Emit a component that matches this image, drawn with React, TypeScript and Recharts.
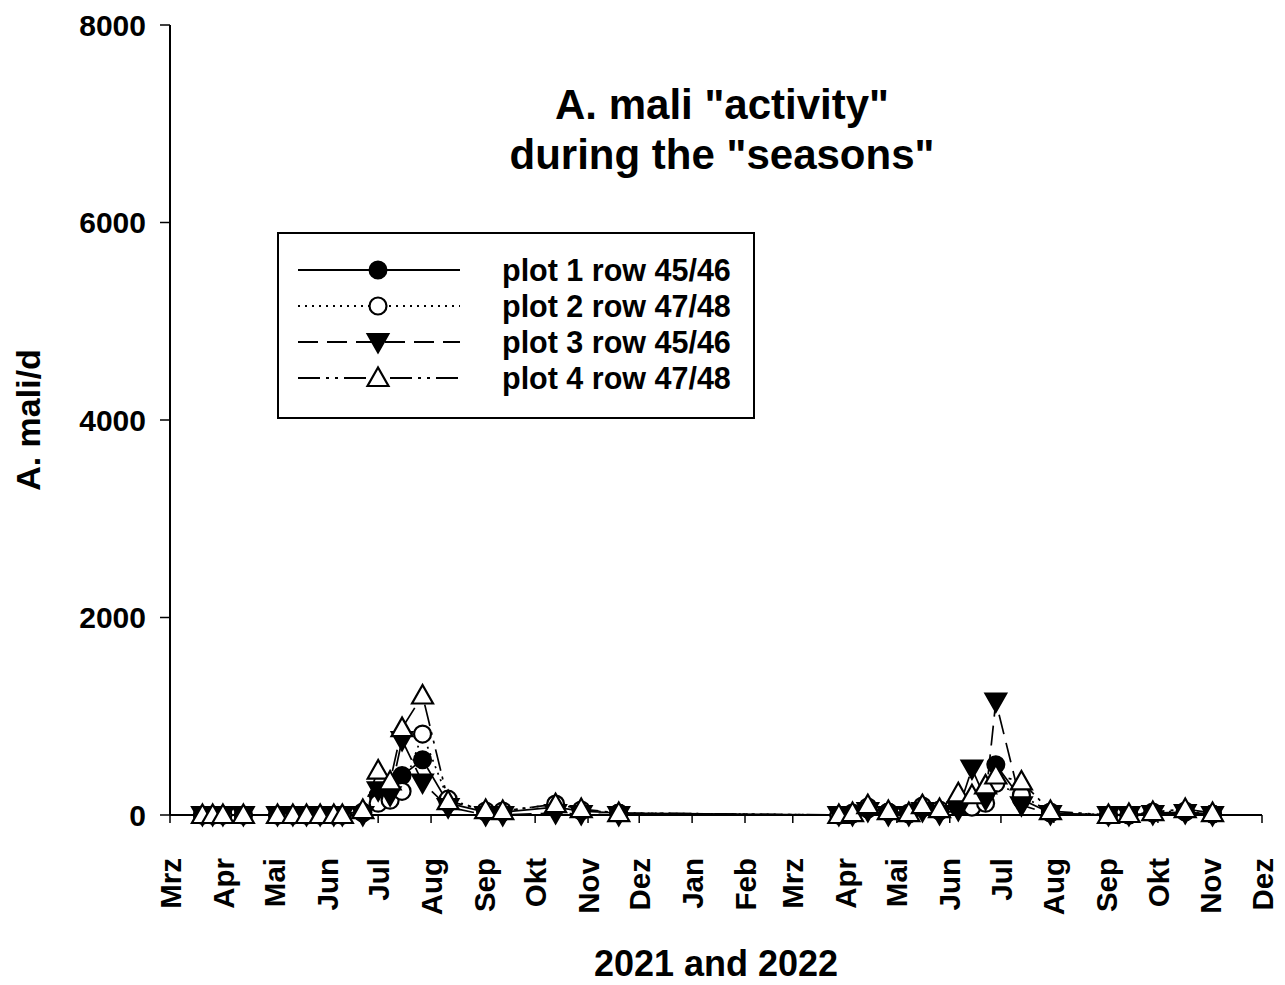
import React from 'react';
import { LineChart, Line, XAxis, YAxis, Legend } from 'recharts';

// Sampling dates (2021 and 2022 seasons)
const sampleDates = [
  '2021-03-20', '2021-03-26', '2021-04-01', '2021-04-13', '2021-05-03', '2021-05-12',
  '2021-05-20', '2021-05-28', '2021-06-05', '2021-06-10', '2021-06-22', '2021-07-01',
  '2021-07-08', '2021-07-15', '2021-07-27', '2021-08-11', '2021-09-02', '2021-09-12',
  '2021-10-13', '2021-10-28', '2021-11-19',
  '2022-03-28', '2022-04-05', '2022-04-14', '2022-04-26', '2022-05-08', '2022-05-16',
  '2022-05-26', '2022-06-06', '2022-06-14', '2022-06-22', '2022-06-28', '2022-07-13',
  '2022-07-30', '2022-09-02', '2022-09-14', '2022-09-28', '2022-10-17', '2022-11-02',
];

const plot1 = [
  0, 0, 0, 0, 0, 0, 0, 0, 0, 0, 20, 200, 250, 400, 560, 120, 30, 30, 80, 40, 20,
  0, 10, 60, 30, 10, 70, 40, 80, 90, 220, 510, 160, 20, 0, 0, 20, 30, 10,
];
const plot2 = [
  0, 0, 0, 0, 0, 0, 0, 0, 0, 0, 30, 120, 150, 240, 820, 160, 40, 40, 110, 50, 20,
  0, 20, 80, 30, 20, 90, 50, 100, 80, 120, 320, 200, 30, 0, 0, 30, 40, 10,
];
const plot3 = [
  0, 0, 0, 0, 0, 0, 0, 0, 0, 0, 0, 250, 200, 760, 330, 80, 0, 0, 20, 10, 0,
  0, 0, 40, 0, 0, 40, 10, 50, 470, 160, 1150, 100, 10, 0, 0, 10, 20, 0,
];
const plot4 = [
  0, 0, 0, 0, 0, 0, 0, 0, 0, 0, 50, 450, 340, 880, 1210, 140, 50, 40, 110, 60, 20,
  0, 20, 100, 40, 20, 100, 60, 220, 200, 300, 400, 340, 40, 0, 10, 30, 60, 20,
];

const seriesNames = ['plot 1 row 45/46', 'plot 2 row 47/48', 'plot 3 row 45/46', 'plot 4 row 47/48'];

const monthTickDates = [
  '2021-03-01', '2021-04-01', '2021-05-01', '2021-06-01', '2021-07-01', '2021-08-01',
  '2021-09-01', '2021-10-01', '2021-11-01', '2021-12-01', '2022-01-01', '2022-02-01',
  '2022-03-01', '2022-04-01', '2022-05-01', '2022-06-01', '2022-07-01', '2022-08-01',
  '2022-09-01', '2022-10-01', '2022-11-01', '2022-12-01',
];
const monthLabels = [
  'Mrz', 'Apr', 'Mai', 'Jun', 'Jul', 'Aug', 'Sep', 'Okt', 'Nov', 'Dez', 'Jan', 'Feb',
  'Mrz', 'Apr', 'Mai', 'Jun', 'Jul', 'Aug', 'Sep', 'Okt', 'Nov', 'Dez',
];
const yTicks = [0, 2000, 4000, 6000, 8000];

const ORIGIN = Date.UTC(2021, 2, 1);
const toDay = (s: string) => {
  const [y, m, d] = s.split('-').map(Number);
  return (Date.UTC(y, m - 1, d) - ORIGIN) / 86400000;
};
const monthTicks = monthTickDates.map(toDay);
const data = sampleDates.map((d, i) => ({
  day: toDay(d),
  p1: plot1[i],
  p2: plot2[i],
  p3: plot3[i],
  p4: plot4[i],
}));

const FONT = '"Liberation Sans", Arial, Helvetica, sans-serif';

type MarkerKind = 'filledCircle' | 'openCircle' | 'downTriangle' | 'upTriangle';

const Marker = ({ kind, cx, cy }: { kind: MarkerKind; cx: number; cy: number }) => {
  if (cx == null || cy == null || isNaN(cx) || isNaN(cy)) return null;
  if (kind === 'filledCircle') return <circle cx={cx} cy={cy} r={8.5} fill="#000" stroke="#000" strokeWidth={2} />;
  if (kind === 'openCircle') return <circle cx={cx} cy={cy} r={8.5} fill="#fff" stroke="#000" strokeWidth={2.2} />;
  if (kind === 'downTriangle')
    return (
      <polygon
        points={`${cx - 10.5},${cy - 8} ${cx + 10.5},${cy - 8} ${cx},${cy + 10.5}`}
        fill="#000"
        stroke="#000"
        strokeWidth={2}
        strokeLinejoin="miter"
      />
    );
  return (
    <polygon
      points={`${cx},${cy - 10.5} ${cx - 10.5},${cy + 8} ${cx + 10.5},${cy + 8}`}
      fill="#fff"
      stroke="#000"
      strokeWidth={2.2}
      strokeLinejoin="miter"
    />
  );
};

const seriesStyle: { key: string; kind: MarkerKind; dash?: string }[] = [
  { key: 'p1', kind: 'filledCircle' },
  { key: 'p2', kind: 'openCircle', dash: '2 5' },
  { key: 'p3', kind: 'downTriangle', dash: '20 9' },
  { key: 'p4', kind: 'upTriangle', dash: '22 6 3 6 3 6' },
];

const MonthTick = (props: any) => {
  const { x, payload } = props;
  const idx = monthTicks.indexOf(payload.value);
  const label = idx >= 0 ? monthLabels[idx] : '';
  return (
    <text
      transform={`translate(${x},${858}) rotate(-90)`}
      textAnchor="end"
      dy="0.36em"
      fontSize={29.5}
      fontWeight="bold"
      fontFamily={FONT}
      fill="#000"
    >
      {label}
    </text>
  );
};

const LegendBox = () => {
  const rows = [38, 74, 110, 146];
  return (
    <svg width={478} height={187} style={{ display: 'block' }}>
      <rect x={1} y={1} width={476} height={185} fill="#fff" stroke="#000" strokeWidth={2} />
      {seriesStyle.map((s, i) => (
        <g key={s.key}>
          <line
            x1={21}
            x2={183}
            y1={rows[i]}
            y2={rows[i]}
            stroke="#000"
            strokeWidth={2}
            strokeDasharray={s.dash}
          />
          <Marker kind={s.kind} cx={101} cy={rows[i]} />
          <text
            x={225}
            y={rows[i]}
            dy="0.36em"
            fontSize={30.5}
            fontWeight="bold"
            fontFamily={FONT}
            fill="#000"
          >
            {seriesNames[i]}
          </text>
        </g>
      ))}
    </svg>
  );
};

export default function App() {
  return (
    <div style={{ position: 'absolute', left: 0, top: 0, width: 1285, height: 985, background: '#fff' }}>
      <LineChart
        width={1285}
        height={985}
        data={data}
        margin={{ top: 25, right: 23, bottom: 0, left: 0 }}
        style={{ background: '#fff' }}
      >
        <XAxis
          dataKey="day"
          type="number"
          domain={[0, 640]}
          ticks={monthTicks}
          interval={0}
          allowDataOverflow
          height={170}
          tickSize={8}
          tick={<MonthTick />}
          axisLine={{ stroke: '#000', strokeWidth: 2 }}
          tickLine={{ stroke: '#000', strokeWidth: 1.5 }}
          label={(p: any) => {
            const vb = p.viewBox || { x: 170, y: 815, width: 1092 };
            return (
              <text
                x={vb.x + vb.width / 2}
                y={vb.y + 148}
                dy="0.36em"
                textAnchor="middle"
                fontSize={36}
                fontWeight="bold"
                fontFamily={FONT}
                fill="#000"
              >
                2021 and 2022
              </text>
            );
          }}
        />
        <YAxis
          type="number"
          domain={[0, 8000]}
          ticks={yTicks}
          interval={0}
          width={170}
          tickSize={10}
          tickMargin={14}
          tick={{ fontSize: 30, fontWeight: 'bold', fill: '#000', fontFamily: FONT }}
          axisLine={{ stroke: '#000', strokeWidth: 2 }}
          tickLine={{ stroke: '#000', strokeWidth: 1.5 }}
          label={(p: any) => {
            const vb = p.viewBox || { x: 0, y: 25, height: 790 };
            const cx = vb.x + 28;
            const cy = vb.y + vb.height / 2;
            return (
              <text
                transform={`translate(${cx},${cy}) rotate(-90)`}
                textAnchor="middle"
                dy="0.36em"
                fontSize={34}
                fontWeight="bold"
                fontFamily={FONT}
                fill="#000"
              >
                A. mali/d
              </text>
            );
          }}
        />
        <Legend
          layout="vertical"
          verticalAlign="middle"
          align="center"
          wrapperStyle={{ left: 277, top: 232, width: 478, height: 187 }}
          content={() => <LegendBox />}
        />
        {seriesStyle.map((s, i) => (
          <Line
            key={s.key}
            dataKey={s.key}
            name={seriesNames[i]}
            type="linear"
            stroke="#000"
            strokeWidth={1.7}
            strokeDasharray={s.dash}
            isAnimationActive={false}
            dot={(props: any) => <Marker key={`${s.key}-${props.index}`} kind={s.kind} cx={props.cx} cy={props.cy} />}
            activeDot={false}
          />
        ))}
      </LineChart>
      <div
        style={{
          position: 'absolute',
          left: 422,
          top: 80,
          width: 600,
          textAlign: 'center',
          fontFamily: FONT,
          fontWeight: 'bold',
          fontSize: 42,
          lineHeight: '50px',
          color: '#000',
          pointerEvents: 'none',
        }}
      >
        A. mali "activity"
        <br />
        during the "seasons"
      </div>
    </div>
  );
}
